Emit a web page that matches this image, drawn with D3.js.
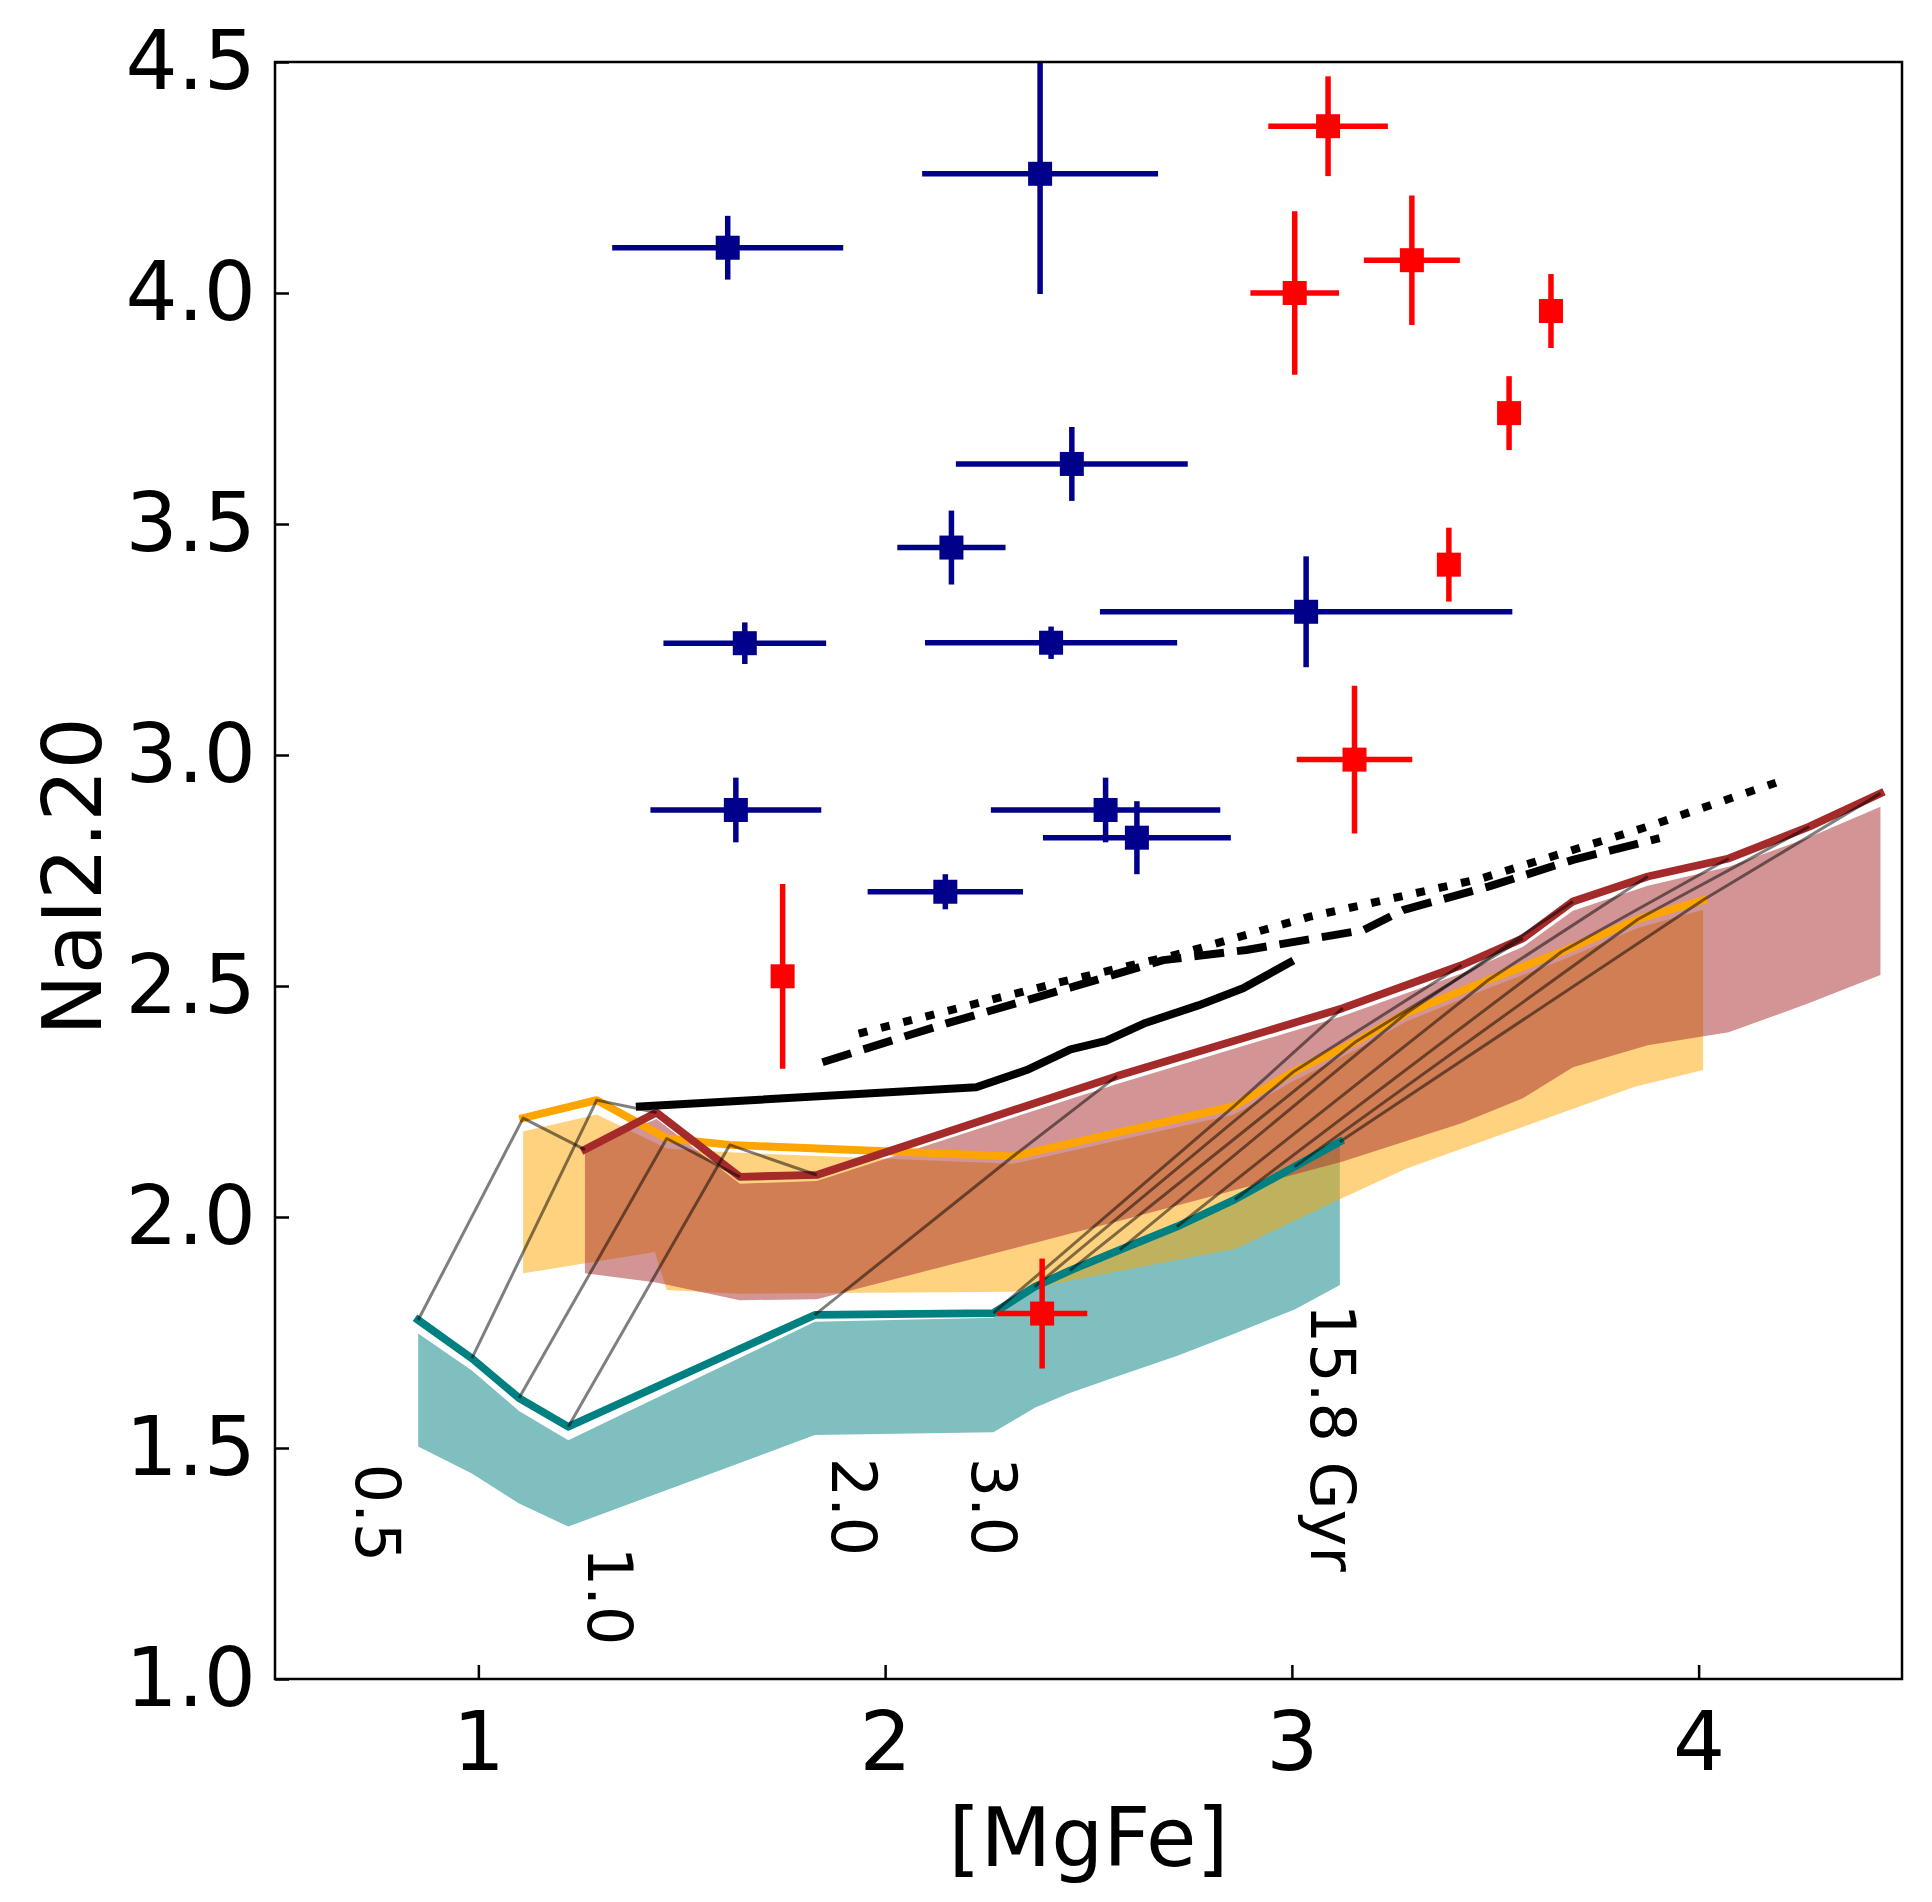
<!DOCTYPE html>
<html><head><meta charset="utf-8">
<script src="https://cdn.jsdelivr.net/npm/d3@7"></script>
<style>body{margin:0;background:#fff} svg{display:block}</style>
</head><body>
<svg id="chart" width="1932" height="1902"></svg>
<script>
// ---------- data ----------
const xTicks = [1, 2, 3, 4];
const yTicks = [1.0, 1.5, 2.0, 2.5, 3.0, 3.5, 4.0, 4.5];

// model 1 (teal)
const tealX = [0.852, 0.984, 1.100, 1.221, 1.827, 2.266, 2.368, 2.454, 2.577, 2.717, 2.860, 3.007, 3.118];
const tealY = [1.777, 1.694, 1.608, 1.546, 1.788, 1.792, 1.849, 1.884, 1.929, 1.979, 2.038, 2.109, 2.163];
const tealBandTop = [1.748, 1.668, 1.580, 1.517, 1.773, 1.782, 1.845, 1.880, 1.925, 1.975, 2.035, 2.105, 2.160];
const tealBandBottom = [1.503, 1.445, 1.380, 1.330, 1.528, 1.534, 1.587, 1.619, 1.657, 1.699, 1.748, 1.800, 1.853];

// model 2 (orange)
const orangeX = [1.110, 1.291, 1.463, 1.618, 2.314, 2.858, 3.005, 3.158, 3.281, 3.483, 3.663, 3.852, 4.011];
const orangeY = [2.214, 2.253, 2.170, 2.156, 2.131, 2.240, 2.315, 2.380, 2.441, 2.513, 2.574, 2.645, 2.686];
const orangeBandTop = [2.185, 2.222, 2.148, 2.140, 2.115, 2.222, 2.295, 2.362, 2.423, 2.495, 2.556, 2.626, 2.665];
const orangeBandBottomX = [1.110, 1.434, 1.463, 1.639, 2.314, 2.864, 3.114, 3.282, 3.659, 3.843, 4.011];
const orangeBandBottom = [1.878, 1.924, 1.842, 1.834, 1.838, 1.932, 2.037, 2.105, 2.224, 2.282, 2.318];

// model 3 (brown)
const brownX = [1.262, 1.438, 1.643, 1.832, 2.570, 3.125, 3.417, 3.568, 3.691, 3.875, 4.074, 4.272, 4.447];
const brownY = [2.146, 2.226, 2.087, 2.091, 2.305, 2.452, 2.545, 2.603, 2.683, 2.737, 2.776, 2.845, 2.917];
const brownBandTop = [2.150, 2.212, 2.072, 2.078, 2.288, 2.435, 2.527, 2.585, 2.663, 2.717, 2.758, 2.822, 2.888];
const brownBandBottom = [1.878, 1.858, 1.820, 1.822, 1.990, 2.120, 2.203, 2.257, 2.324, 2.372, 2.400, 2.463, 2.524];

// black model lines
const solidX = [1.397, 2.224, 2.348, 2.456, 2.543, 2.640, 2.770, 2.880, 2.995];
const solidY = [2.239, 2.281, 2.318, 2.363, 2.381, 2.420, 2.458, 2.495, 2.551];
const dashedX = [1.846, 2.151, 2.465, 2.684, 2.888, 3.176, 3.275, 3.483, 3.691, 3.904];
const dashedY = [2.335, 2.419, 2.499, 2.556, 2.578, 2.621, 2.665, 2.715, 2.773, 2.820];
const dottedX = [1.935, 2.420, 2.730, 3.044, 3.467, 3.875, 4.190];
const dottedY = [2.397, 2.506, 2.571, 2.650, 2.733, 2.845, 2.940];

// observations (blue)
const blueX = [1.613, 2.381, 2.459, 2.163, 1.655, 2.408, 3.035, 1.633, 2.542, 2.619, 2.148];
const blueY = [4.098, 4.258, 3.630, 3.449, 3.242, 3.243, 3.310, 2.881, 2.881, 2.821, 2.704];
const blueXerr = [0.284, 0.290, 0.285, 0.133, 0.200, 0.310, 0.507, 0.210, 0.282, 0.231, 0.191];
const blueYerr = [0.069, 0.260, 0.080, 0.080, 0.045, 0.035, 0.120, 0.070, 0.070, 0.079, 0.038];

// observations (red)
const redX = [3.089, 3.007, 3.295, 3.637, 3.534, 3.386, 3.154, 1.748, 2.386];
const redY = [4.361, 4.000, 4.071, 3.961, 3.740, 3.412, 2.990, 2.521, 1.791];
const redXerr = [0.147, 0.109, 0.118, 0.0, 0.0, 0.0, 0.142, 0.0, 0.111];
const redYerr = [0.108, 0.177, 0.140, 0.080, 0.080, 0.080, 0.160, 0.200, 0.119];

// age annotations (data coordinates of text anchor)
const ageLabels = ["0.5", "1.0", "2.0", "3.0", "15.8 Gyr"];
const ageLabelX = [0.699, 1.269, 1.869, 2.213, 3.047];
const ageLabelY = [1.466, 1.286, 1.479, 1.479, 1.812];

// ---------- drawing ----------
const svg = d3.select("#chart");
svg.append("rect").attr("width", 1932).attr("height", 1902).attr("fill", "#fff");

const L = 275, R = 1902, T = 62, B = 1679;
const x = d3.scaleLinear().domain([0.5, 4.5]).range([L, R]);
const y = d3.scaleLinear().domain([1.0, 4.5]).range([B, T]);
const FONT = "DejaVu Sans, sans-serif";

svg.append("defs").append("clipPath").attr("id", "clip")
  .append("rect").attr("x", L).attr("y", T).attr("width", R - L).attr("height", B - T);
const g = svg.append("g").attr("clip-path", "url(#clip)");

const zip = (xs, ys) => xs.map((v, i) => [v, ys[i]]);
const line = d3.line().x(d => x(d[0])).y(d => y(d[1]));

function band(xsTop, top, xsBot, bot, color) {
  const pts = zip(xsTop, top).concat(zip(xsBot, bot).reverse());
  g.append("path").attr("d", line(pts) + "Z")
    .attr("fill", color).attr("fill-opacity", 0.5).attr("stroke", "none");
}
band(tealX, tealBandTop, tealX, tealBandBottom, "#008080");
band(orangeX, orangeBandTop, orangeBandBottomX, orangeBandBottom, "#FFA500");
band(brownX, brownBandTop, brownX, brownBandBottom, "#A52A2A");

function model(xs, ys, color, width, dash) {
  const p = g.append("path").attr("d", line(zip(xs, ys)))
    .attr("fill", "none").attr("stroke", color).attr("stroke-width", width)
    .attr("stroke-linejoin", "round");
  if (dash) p.attr("stroke-dasharray", dash).attr("stroke-linecap", "butt");
  else p.attr("stroke-linecap", "square");
}
model(tealX, tealY, "#008080", 7.8);
model(orangeX, orangeY, "#FFA500", 7.8);
model(brownX, brownY, "#A52A2A", 7.8);
model(solidX, solidY, "#000", 8);
model(dashedX, dashedY, "#000", 8, "30,13");
model(dottedX, dottedY, "#000", 8, "9,14");

// iso-age connectors
tealX.forEach((_, i) => {
  const pts = [[tealX[i], tealY[i]], [orangeX[i], orangeY[i]], [brownX[i], brownY[i]]];
  g.append("path").attr("d", line(pts)).attr("fill", "none")
    .attr("stroke", "#000").attr("stroke-opacity", 0.5).attr("stroke-width", 3)
    .attr("stroke-linejoin", "round");
});

// observations
function points(xs, ys, xe, ye, color) {
  const gg = g.append("g");
  xs.forEach((v, i) => {
    if (xe[i] > 0) gg.append("line")
      .attr("x1", x(v - xe[i])).attr("x2", x(v + xe[i]))
      .attr("y1", y(ys[i])).attr("y2", y(ys[i]))
      .attr("stroke", color).attr("stroke-width", 5.5);
    gg.append("line")
      .attr("x1", x(v)).attr("x2", x(v))
      .attr("y1", y(ys[i] - ye[i])).attr("y2", y(ys[i] + ye[i]))
      .attr("stroke", color).attr("stroke-width", 5.5);
  });
  xs.forEach((v, i) => {
    gg.append("rect").attr("x", x(v) - 12).attr("y", y(ys[i]) - 12)
      .attr("width", 24).attr("height", 24).attr("fill", color);
  });
}
points(blueX, blueY, blueXerr, blueYerr, "#00008B");
points(redX, redY, redXerr, redYerr, "#FF0000");

// age labels
ageLabels.forEach((t, i) => {
  svg.append("text")
    .attr("transform", `translate(${x(ageLabelX[i])},${y(ageLabelY[i])}) rotate(90)`)
    .attr("text-anchor", "start")
    .attr("font-family", FONT).attr("font-size", 62).attr("fill", "#000")
    .text(t);
});

// axes
const xAxis = svg.append("g").attr("transform", `translate(0,${B})`)
  .call(d3.axisBottom(x).tickValues(xTicks).tickFormat(d3.format("d"))
    .tickSize(-14).tickPadding(33));
const yAxis = svg.append("g").attr("transform", `translate(${L},0)`)
  .call(d3.axisLeft(y).tickValues(yTicks).tickFormat(d3.format(".1f"))
    .tickSize(-14).tickPadding(19));
[xAxis, yAxis].forEach(a => {
  a.select(".domain").remove();
  a.selectAll(".tick line").attr("stroke", "#000").attr("stroke-width", 2.5);
  a.selectAll(".tick text").attr("font-family", FONT).attr("font-size", 82).attr("fill", "#000");
});

svg.append("rect").attr("x", L).attr("y", T).attr("width", R - L).attr("height", B - T)
  .attr("fill", "none").attr("stroke", "#000").attr("stroke-width", 2.5);

svg.append("text").attr("x", (L + R) / 2).attr("y", 1866)
  .attr("text-anchor", "middle").attr("font-family", FONT).attr("font-size", 82)
  .text("[MgFe]");
svg.append("text").attr("transform", `translate(101,${(T + B) / 2 + 6}) rotate(-90)`)
  .attr("text-anchor", "middle").attr("font-family", FONT).attr("font-size", 82)
  .text("NaI2.20");
</script>
</body></html>
